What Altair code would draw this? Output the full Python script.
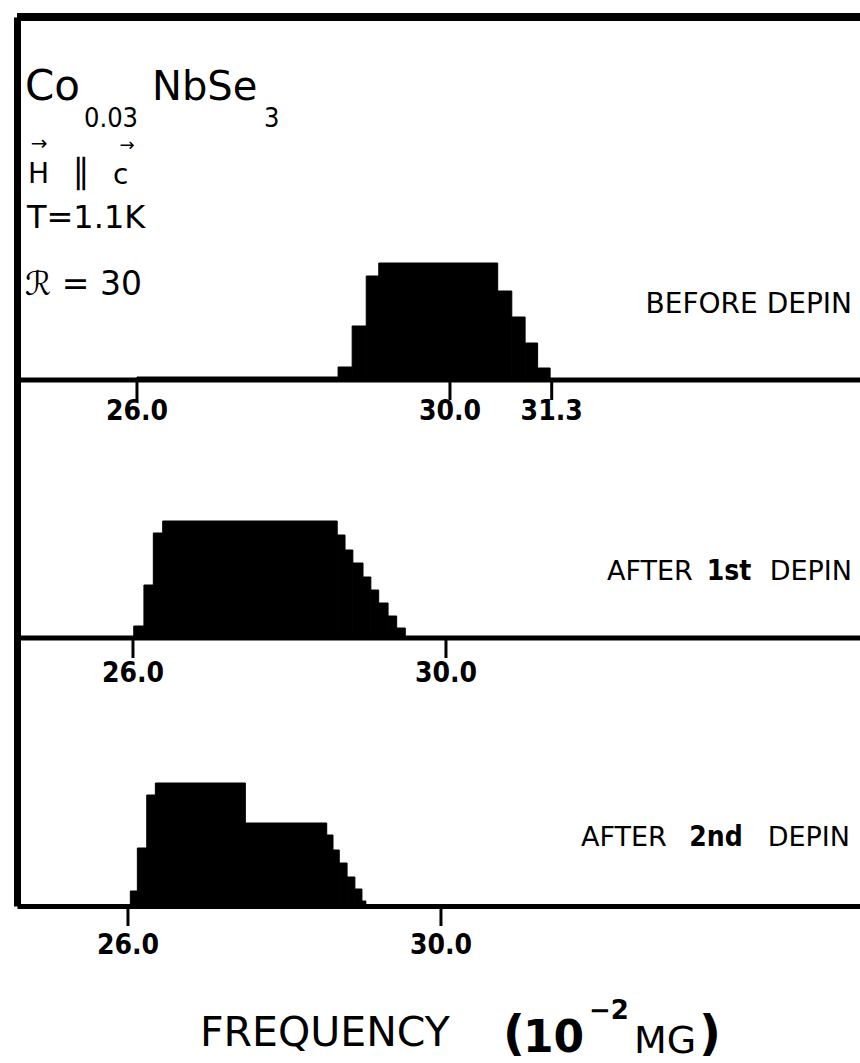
import altair as alt
import pandas as pd

# ---------------- data ----------------
# Panel 1: BEFORE DEPIN  (bin edges in 10^-2 MG, heights in arbitrary count units)
p1_lo = [26.00, 28.57, 28.75, 28.93, 29.09, 30.61, 30.79, 30.96, 31.12]
p1_hi = [28.57, 28.75, 28.93, 29.09, 30.61, 30.79, 30.96, 31.12, 31.28]
p1_h = [3, 13, 54, 104, 117, 89, 63, 37, 12]
p1_ticks = [26.0, 30.0, 31.3]

# Panel 2: AFTER 1st DEPIN
p2_lo = [26.01, 26.14, 26.26, 26.38, 28.61, 28.71, 28.81, 28.94, 29.04, 29.14, 29.26, 29.37]
p2_hi = [26.14, 26.26, 26.38, 28.61, 28.71, 28.81, 28.94, 29.04, 29.14, 29.26, 29.37, 29.48]
p2_h = [12, 53, 105, 117, 103, 88, 75, 61, 48, 35, 22, 10]
p2_ticks = [26.0, 30.0]

# Panel 3: AFTER 2nd DEPIN
p3_lo = [26.03, 26.12, 26.24, 26.35, 27.50, 28.54, 28.62, 28.70, 28.80, 28.90, 28.99]
p3_hi = [26.12, 26.24, 26.35, 27.50, 28.54, 28.62, 28.70, 28.80, 28.90, 28.99, 29.04]
p3_h = [15, 58, 111, 123, 83, 71, 56, 43, 29, 17, 5]
p3_ticks = [26.0, 30.0]

# ---------------- layout ----------------
PAD_L, PAD_T, PAD_B = 17, 17, 157
W, H = 843, 889
X_DOM = [24.518, 35.291]
Y_TOP = 889
BASE1, BASE2, BASE3 = 526, 268, 0

xscale = alt.Scale(domain=X_DOM, nice=False, zero=False)
yscale = alt.Scale(domain=[0, Y_TOP], nice=False, zero=False)

TICK_FONT = "DejaVu Sans Condensed"
LIGHT_FONT = "DejaVu Sans"


def panel(lo, hi, h, ticks, base, shift, label_dy):
    df = pd.DataFrame({"lo": lo, "hi": hi, "count": h})
    df["y0"] = base
    df["y1"] = base + df["count"]
    bars = alt.Chart(df).mark_rect(
        color="black", stroke="black", strokeWidth=1, xOffset=shift, x2Offset=shift
    ).encode(
        x=alt.X("lo:Q", scale=xscale, title=None),
        x2="hi:Q",
        y=alt.Y("y0:Q", scale=yscale, title=None),
        y2="y1:Q",
    )
    tdf = pd.DataFrame({"tick": ticks})
    tdf["label"] = [f"{t:.1f}" for t in ticks]
    tdf["y0"] = base
    tdf["y1"] = base - 20
    rules = alt.Chart(tdf).mark_rule(color="black", strokeWidth=3, xOffset=shift).encode(
        x=alt.X("tick:Q", scale=xscale, title=None),
        y=alt.Y("y0:Q", scale=yscale, title=None),
        y2="y1:Q",
    )
    labels = alt.Chart(tdf).mark_text(
        font=TICK_FONT, fontSize=28, fontWeight="bold", color="black",
        dx=shift, dy=label_dy, baseline="middle", align="center",
    ).encode(
        x=alt.X("tick:Q", scale=xscale, title=None),
        y=alt.Y("y0:Q", scale=yscale, title=None),
        text="label:N",
    )
    return [bars, rules, labels]


# frame lines: top border and the baselines of panels 1 and 2
fdf = pd.DataFrame({"x0": [X_DOM[0]] * 3, "x1": [X_DOM[1]] * 3,
                    "y": [Y_TOP, BASE1, BASE2], "w": [8, 5, 5]})
frame = alt.Chart(fdf).mark_rule(color="black").encode(
    x=alt.X("x0:Q", scale=xscale, title=None),
    x2="x1:Q",
    y=alt.Y("y:Q", scale=yscale, title=None),
    strokeWidth=alt.StrokeWidth("w:Q", scale=None, legend=None),
)


def txt(s, x, y, size, font=LIGHT_FONT, weight="normal", align="left", baseline="alphabetic"):
    return alt.Chart(pd.DataFrame({"a": [0]})).mark_text(
        text=s, font=font, fontSize=size, fontWeight=weight, color="black",
        align=align, baseline=baseline,
    ).encode(x=alt.value(x - PAD_L), y=alt.value(y - PAD_T))


notes = [
    # composition
    txt("Co", 25, 100, 42),
    txt("0.03", 84, 127, 27, font=TICK_FONT),
    txt("NbSe", 152, 100, 40),
    txt("3", 264, 127, 27, font=TICK_FONT),
    # H || c
    txt("→", 39, 144, 20, align="center", baseline="middle"),
    txt("H", 28, 183, 28),
    txt("∥", 81, 183, 34, align="center"),
    txt("→", 127, 146, 18, align="center", baseline="middle"),
    txt("c", 113, 184, 28),
    txt("T=1.1K", 27, 228, 32),
    txt("ℛ = 30", 25, 295, 33),
    # panel labels
    txt("BEFORE DEPIN", 852, 313, 28, align="right"),
    txt("AFTER", 607, 580, 27),
    txt("1st", 729, 580, 28, font=TICK_FONT, weight="bold", align="center"),
    txt("DEPIN", 852, 580, 27, align="right"),
    txt("AFTER", 581, 846, 27),
    txt("2nd", 716, 846, 28, font=TICK_FONT, weight="bold", align="center"),
    txt("DEPIN", 850, 846, 27, align="right"),
    # axis title
    txt("FREQUENCY", 200, 1046, 41),
    txt("(", 503, 1050, 48, weight="bold"),
    txt("10", 523, 1052, 44, weight="bold"),
    txt("−2", 589, 1019, 26, weight="bold"),
    txt("MG", 634, 1053, 38),
    txt(")", 699, 1050, 48, weight="bold"),
]

layers = [frame]
layers += panel(p1_lo, p1_hi, p1_h, p1_ticks, BASE1, 4, 32)
layers += panel(p2_lo, p2_hi, p2_h, p2_ticks, BASE2, 0, 36)
layers += panel(p3_lo, p3_hi, p3_h, p3_ticks, BASE3, -5, 40)
layers += notes

chart = alt.layer(*layers).properties(
    width=W, height=H,
    padding={"left": PAD_L, "top": PAD_T, "right": 0, "bottom": PAD_B},
    autosize=alt.AutoSizeParams(type="none"),
    background="white",
).configure_view(strokeWidth=0).configure_axis(
    labels=False, ticks=False, grid=False, domainColor="black", title=None,
).configure_axisX(domainWidth=5).configure_axisY(domainWidth=7)

chart.save("out.html", embed_options={"renderer": "svg", "actions": False})
